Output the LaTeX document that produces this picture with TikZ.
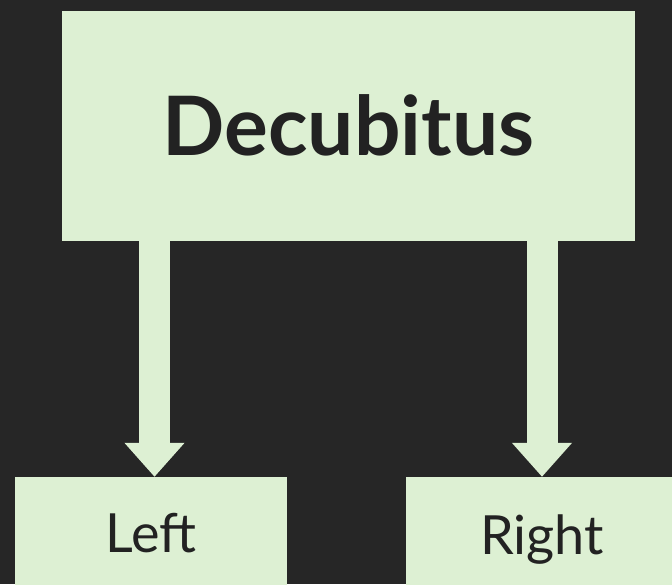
\documentclass[tikz,border=0pt]{standalone}
\usepackage{fontspec}
\setmainfont{Lato}
\usetikzlibrary{arrows.meta}
\definecolor{bgdark}{HTML}{262626}
\definecolor{mint}{HTML}{DDF0D3}
\definecolor{inkdark}{HTML}{222222}
\tikzset{
  box/.style={rectangle, fill=mint, inner sep=0pt, text=inkdark, text depth=0pt},
  flow/.style={draw=mint, line width=31pt,
    -{Triangle[width=58pt,length=34pt]}, fill=mint}
}
\begin{document}
\begin{tikzpicture}[x=1pt,y=-1pt]
  \fill[bgdark] (0,0) rectangle (672,584);
  \useasboundingbox (0,0) rectangle (672,584);
  \clip (0,0) rectangle (672,584);

  % main category
  \node[box, minimum width=573pt, minimum height=230pt, text height=59pt,
        font=\fontsize{82}{84}\selectfont\bfseries] (top) at (348.5,126) {Decubitus};

  % the two positions
  \node[box, minimum width=272pt, minimum height=112pt, text height=39pt,
        font=\fontsize{54}{56}\selectfont] (left) at (151,533) {Left};
  \node[box, minimum width=272pt, minimum height=116pt, text height=39pt,
        font=\fontsize{54}{56}\selectfont] (right) at (542,535) {Right};

  % branch points on the lower edge of the main box
  \coordinate (lstart) at (top.south -| 154.5,0);
  \coordinate (rstart) at (top.south -| 542,0);

  \draw[flow] (lstart) -- (lstart |- left.north);
  \draw[flow] (rstart) -- (rstart |- right.north);
\end{tikzpicture}
\end{document}
